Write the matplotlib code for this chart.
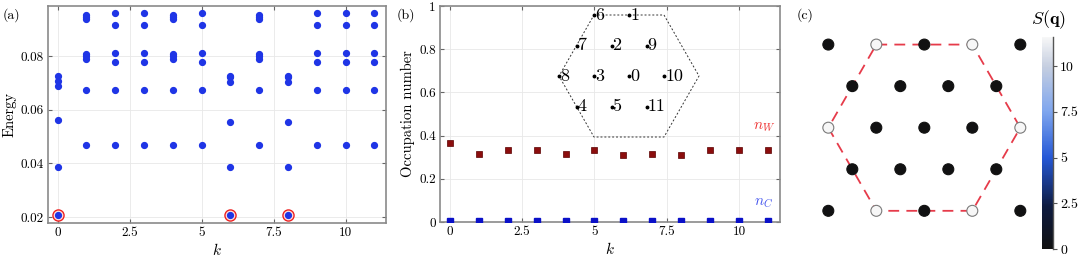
import numpy as np
import matplotlib
matplotlib.use('Agg')
from matplotlib import pyplot as plt
from matplotlib.colors import LinearSegmentedColormap

plt.rcParams['font.family'] = 'serif'
plt.rcParams['font.serif'] = ['cmr10']
plt.rcParams['mathtext.fontset'] = 'cm'
plt.rcParams['axes.formatter.use_mathtext'] = True

# (a) many-body spectrum, lowest levels per momentum sector
k_sectors = list(range(12))
energy_levels = [
    [0.0727, 0.0709, 0.0688, 0.0563, 0.0386, 0.0207],
    [0.0953, 0.0946, 0.0938, 0.0807, 0.0800, 0.0788, 0.0673, 0.0470],
    [0.0960, 0.0915, 0.0812, 0.0780, 0.0673, 0.0470],
    [0.0960, 0.0915, 0.0812, 0.0780, 0.0673, 0.0470],
    [0.0953, 0.0946, 0.0938, 0.0807, 0.0800, 0.0788, 0.0673, 0.0470],
    [0.0960, 0.0915, 0.0812, 0.0780, 0.0673, 0.0470],
    [0.0727, 0.0721, 0.0702, 0.0556, 0.0386, 0.0207],
    [0.0953, 0.0946, 0.0938, 0.0807, 0.0800, 0.0788, 0.0673, 0.0470],
    [0.0727, 0.0721, 0.0702, 0.0556, 0.0386, 0.0207],
    [0.0960, 0.0915, 0.0812, 0.0780, 0.0673, 0.0470],
    [0.0960, 0.0915, 0.0812, 0.0780, 0.0673, 0.0470],
    [0.0960, 0.0915, 0.0812, 0.0780, 0.0673, 0.0470],
]
gs_k = [0, 6, 8]
gs_E = [0.0207, 0.0207, 0.0207]

# (b) occupation numbers
n_W = [0.367, 0.315, 0.333, 0.333, 0.316, 0.333, 0.309, 0.316, 0.309, 0.333, 0.333, 0.333]
n_C = [0.004] * 12

# (b) inset: cluster sites (lattice units) and Brillouin-zone outline
site_x = [0, 0, -0.5, -1, -1.5, -0.5, -1, -1.5, -2, 0.5, 1, 0.5]
site_y = [0, 1.732, 0.866, 0, -0.866, -0.866, 1.732, 0.866, 0, 0.866, 0, -0.866]
site_lab = [str(i) for i in range(12)]
bz_x = [-1, 1, 2, 1, -1, -2, -1]
bz_y = [1.732, 1.732, 0, -1.732, -1.732, 0, 1.732]

# (c) structure factor on the q grid
q_x = [-2, -1, 0, 1, 2,
       -1.5, -0.5, 0.5, 1.5,
       -2, -1, 0, 1, 2,
       -1.5, -0.5, 0.5, 1.5,
       -2, -1, 0, 1, 2]
q_y = [1.732] * 5 + [0.866] * 4 + [0] * 5 + [-0.866] * 4 + [-1.732] * 5
S_q = [0.05, 11.6, 0.05, 11.6, 0.05,
       0.05, 0.05, 0.05, 0.05,
       11.6, 0.05, 0.05, 0.05, 11.6,
       0.05, 0.05, 0.05, 0.05,
       0.05, 11.6, 0.05, 11.6, 0.05]

W, H = 1079, 279
fig = plt.figure(figsize=(W / 100, H / 100), dpi=100)

def px_axes(l, t, r, b):
    return fig.add_axes([l / W, 1 - b / H, (r - l) / W, (b - t) / H])

def style(ax):
    for s in ax.spines.values():
        s.set_color('#8a8a8a')
        s.set_linewidth(1.2)
    ax.grid(True, color='#e8e8e8', lw=0.6)
    ax.set_axisbelow(True)
    ax.tick_params(direction='in', length=3, color='#666666', labelsize=9.5,
                   top=True, right=True, pad=3)
    ax.set_xticks([0, 2.5, 5, 7.5, 10])
    ax.set_xticklabels(['0', '2.5', '5', '7.5', '10'])
    ax.set_xlim(-0.33, 11.4)
    ax.set_xlabel('$k$', fontsize=11, labelpad=2)

# ---- (a)
ax = px_axes(48, 6, 386, 223)
style(ax)
kk = np.concatenate([[k] * len(e) for k, e in zip(k_sectors, energy_levels)])
EE = np.concatenate(energy_levels)
ax.plot(gs_k, gs_E, 'o', ms=8, mfc='#ffe0e0', mec='#ee2222', mew=1.0, zorder=2)
ax.plot(kk, EE, 'o', ms=4.2, color='#1f35e6', zorder=3)
ax.set_ylim(0.0178, 0.0987)
ax.set_yticks([0.02, 0.04, 0.06, 0.08])
ax.set_yticklabels(['0.02', '0.04', '0.06', '0.08'])
ax.set_ylabel('Energy', fontsize=10.5, labelpad=3)

# ---- (b)
bx = px_axes(440, 6, 780, 222)
style(bx)
bx.plot(k_sectors, n_W, 's', ms=4, mfc='#8b0d0d', mec='#5a0000', mew=0.5, zorder=3)
bx.plot(k_sectors, n_C, 's', ms=4, color='#0a10c8', zorder=3)
bx.set_ylim(0, 1.0)
bx.set_yticks([0, 0.2, 0.4, 0.6, 0.8, 1])
bx.set_yticklabels(['0', '0.2', '0.4', '0.6', '0.8', '1'])
bx.set_ylabel('Occupation number', fontsize=10.5, labelpad=3)
bx.text(10.85, 0.44, '$n_W$', color='#ee3030', fontsize=11, ha='center', va='center')
bx.text(10.85, 0.085, '$n_C$', color='#4455ee', fontsize=11, ha='center', va='center')

ins = px_axes(559, 15, 699, 137)
ins.axis('off')
ins.set_xlim(-2, 2)
ins.set_ylim(-1.732, 1.732)
ins.plot(bz_x, bz_y, color='#333333', lw=0.7, ls=(0, (2, 2)), clip_on=False)
ins.plot(site_x, site_y, 'o', ms=1.8, color='black', clip_on=False)
for x, y, s in zip(site_x, site_y, site_lab):
    ins.annotate(s, (x, y), xytext=(0.8, 0), textcoords='offset points',
                 ha='left', va='center', fontsize=13)

# ---- (c)
cx = px_axes(800, 20, 1035, 240)
cx.axis('off')
cx.set_xlim(-2.59, 2.306)
cx.set_ylim(-2.34, 2.244)
cmap = LinearSegmentedColormap.from_list('sq', [
    (0.0, '#111111'), (0.2, '#0e1b40'), (0.43, '#2558d6'),
    (0.65, '#7fa6ee'), (0.86, '#c5cee0'), (1.0, '#f7f7f7')])
edge = ['#7a7a7a' if s > 5 else '#111111' for s in S_q]
cx.plot(bz_x, bz_y, color='#e63b4a', lw=1.3, ls=(0, (6, 4)), zorder=1)
sc = cx.scatter(q_x, q_y, c=S_q, cmap=cmap, vmin=0, vmax=11.6, s=62,
                edgecolors=edge, linewidths=0.8, zorder=2)

cax = px_axes(1041.7, 36.7, 1053.3, 249.3)
cb = fig.colorbar(sc, cax=cax)
cb.outline.set_visible(False)
cax.plot([1, 1], [0, 1], transform=cax.transAxes, color='#555555', lw=1, clip_on=False)
cb.set_ticks([0, 2.5, 5, 7.5, 10])
cb.set_ticklabels(['0', '2.5', '5', '7.5', '10'])
cax.tick_params(labelsize=10, length=3, color='#555555', pad=2)
fig.text(1048 / W, 1 - 20 / H, r'$S(\mathbf{q})$', fontsize=13, ha='center', va='center')

# panel tags
fig.text(3 / W, 1 - 15 / H, '(a)', fontsize=10, va='center')
fig.text(397 / W, 1 - 15 / H, '(b)', fontsize=10, va='center')
fig.text(797 / W, 1 - 15 / H, '(c)', fontsize=10, va='center')

fig.savefig('out.png', dpi=100)
